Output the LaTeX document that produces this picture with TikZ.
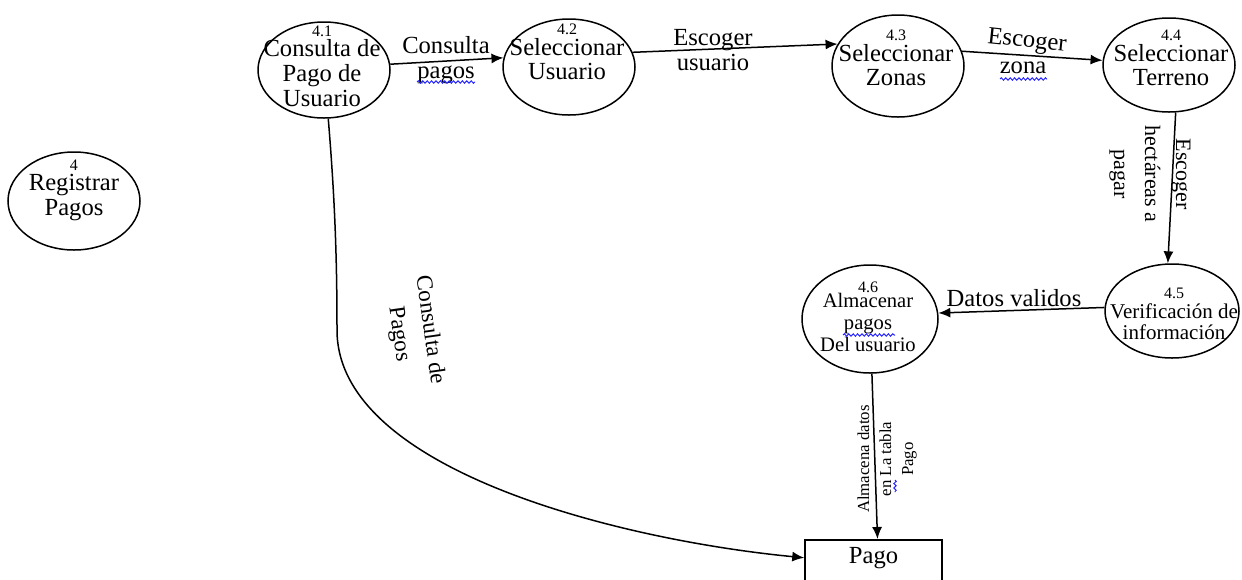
\documentclass[tikz,border=0pt]{standalone}
\usepackage{fontspec}
\setmainfont{Liberation Serif}
\usetikzlibrary{arrows.meta,shapes.geometric,decorations.pathmorphing}

% small process numbers above the process names
\newcommand\procnum[1]{{\fontsize{8}{8}\selectfont #1}}

\begin{document}
\begin{tikzpicture}[x=0.5pt,y=-0.5pt,
  proc/.style={draw,ellipse,line width=0.75pt,inner sep=0pt},
  ptxt/.style={align=center,inner sep=0pt,font=\fontsize{12.3}{12.3}\selectfont},
  etxt/.style={align=center,inner sep=0pt,font=\fontsize{12.3}{12.5}\selectfont},
  flow/.style={line width=0.75pt,-{Latex[length=6pt,width=5pt]}},
  store/.style={draw,rectangle,line width=0.75pt,inner sep=0pt},
  spell/.style={draw=blue!85!white,line width=0.5pt,decorate,
    decoration={snake,amplitude=0.6pt,segment length=2.2pt}},
]
\useasboundingbox (0,0) rectangle (1242,579);

% processes
\node[proc,minimum width=66pt,minimum height=49pt] (n4)  at (74,201) {};
\node[proc,minimum width=66pt,minimum height=48pt] (n41) at (324,70) {};
\node[proc,minimum width=66pt,minimum height=48pt] (n42) at (569,67) {};
\node[proc,minimum width=66pt,minimum height=51pt] (n43) at (898,66) {};
\node[proc,minimum width=66pt,minimum height=47pt] (n44) at (1169,65) {};
\node[proc,minimum width=67pt,minimum height=47pt] (n45) at (1172,311) {};
\node[proc,minimum width=68pt,minimum height=54pt] (n46) at (870,319) {};

% process texts
\node[ptxt] (t4)  at (74,190)  {\procnum{4}\\[-2pt]Registrar\\Pagos};
\node[ptxt] (t41) at (322,66)  {\procnum{4.1}\\[-2pt]Consulta de\\Pago de\\Usuario};
\node[ptxt] (t42) at (567,52)  {\procnum{4.2}\\[-2pt]Seleccionar\\Usuario};
\node[ptxt] (t43) at (896,58)  {\procnum{4.3}\\[-2pt]Seleccionar\\Zonas};
\node[ptxt] (t44) at (1171,58) {\procnum{4.4}\\[-2pt]Seleccionar\\Terreno};
\node[ptxt,font=\fontsize{10.5}{10.5}\selectfont] (t45) at (1174,314)
  {\procnum{4.5}\\[-0.5pt]Verificación de\\información};
\node[ptxt,font=\fontsize{10.3}{11}\selectfont] (t46) at (868,317)
  {\procnum{4.6}\\[-3.5pt]Almacenar\\pagos\\Del usuario};

% data store
\node[store,minimum width=68.5pt,minimum height=31pt,anchor=north,
  label={[anchor=north,inner sep=0pt,yshift=-4pt,font=\fontsize{12.3}{12.3}\selectfont]north:Pago}]
  (pago) at (873.5,539) {};

% flows
\draw[flow] (n41.5)   -- (n42.172);
\draw[flow] (n42.13)  -- (n43.160);
\draw[flow] (n43.13)  -- (n44.176);
\draw[flow] (n44.-82) -- (n45.95);
\draw[flow] (n45.177) -- (n46.5);
\draw[flow] (n46.-88) -- ([xshift=2pt]pago.north);
\draw[flow] (n41.-85) .. controls (335,200) and (337,260) .. (337,330)
  .. controls (337,470) and (620,540) .. ([yshift=6.5pt]pago.west);

% flow labels
\node[etxt] (l1) at (446,60) {Consulta\\pagos};
\node[etxt] (l2) at (713,50) {Escoger\\usuario};
\node[etxt,rotate=-6] (l3a) at (1027,42) {Escoger};
\node[etxt] (l3b) at (1023,68) {zona};
\node[etxt] (l5) at (1014,298) {Datos validos};
\node[align=center,inner sep=0pt,font=\fontsize{11}{15.5}\selectfont,rotate=-90]
  (l4) at (1150,174) {Escoger\\hectáreas a\\pagar};
\node[align=center,inner sep=0pt,font=\fontsize{11.5}{15.5}\selectfont,rotate=-82]
  (l7) at (414,332) {Consulta de\\Pagos};
\node[align=center,inner sep=0pt,font=\fontsize{8.4}{11}\selectfont,rotate=90]
  (l6) at (887,459) {Almacena datos\\en La tabla\\Pago};

% spell-check underlines
\draw[spell] (417,82) -- (475,82);
\draw[spell] (1000,79) -- (1047,79);
\draw[spell] (843,335) -- (895,335);
\draw[spell] (895,480) -- (895,492);
\end{tikzpicture}
\end{document}
